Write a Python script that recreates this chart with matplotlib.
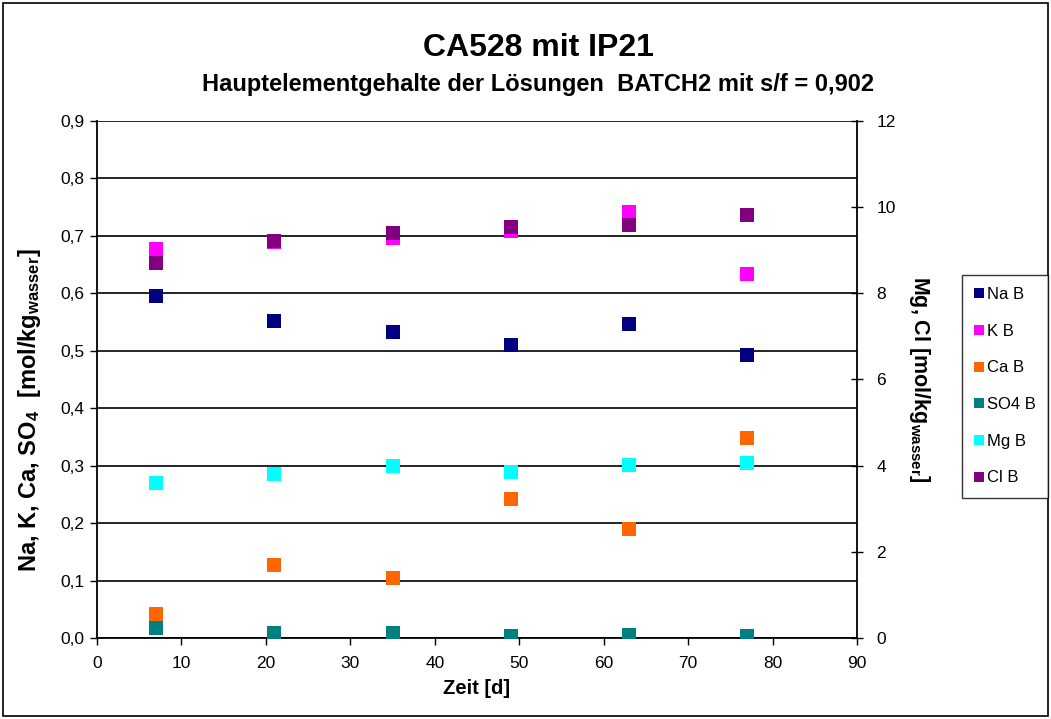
import matplotlib
matplotlib.use("Agg")
import matplotlib.pyplot as plt
from matplotlib.patches import Rectangle
from matplotlib.ticker import FuncFormatter, MultipleLocator

plt.rcParams['font.family'] = ['Liberation Sans', 'DejaVu Sans']
plt.rcParams['mathtext.fontset'] = 'custom'
plt.rcParams['mathtext.rm'] = 'Liberation Sans'
plt.rcParams['mathtext.bf'] = 'Liberation Sans:bold'
plt.rcParams['mathtext.it'] = 'Liberation Sans:italic'

# Sampling times [d]
zeit = [7, 21, 35, 49, 63, 77]

# Left axis series [mol/kg water]
na_b = [0.596, 0.552, 0.533, 0.510, 0.547, 0.492]
k_b = [0.677, 0.689, 0.696, 0.708, 0.742, 0.633]
ca_b = [0.042, 0.127, 0.104, 0.242, 0.190, 0.349]
so4_b = [0.018, 0.008, 0.008, 0.003, 0.005, 0.003]

# Right axis series [mol/kg water]
mg_b = [3.60, 3.81, 3.99, 3.85, 4.02, 4.06]
cl_b = [8.71, 9.22, 9.40, 9.55, 9.59, 9.82]

fig = plt.figure(figsize=(10.51, 7.19), dpi=100)
ax = fig.add_axes([0.0923, 0.1127, 0.7231, 0.7190])
ax2 = ax.twinx()

ms = 9.5
h_na, = ax.plot(zeit, na_b, 's', color='#000080', ms=ms, mew=0, label='Na B', zorder=3)
h_k, = ax.plot(zeit, k_b, 's', color='#FF00FF', ms=ms, mew=0, label='K B', zorder=3)
h_ca, = ax.plot(zeit, ca_b, 's', color='#FF6600', ms=ms, mew=0, label='Ca B', zorder=3)
h_so4, = ax.plot(zeit, so4_b, 's', color='#008080', ms=ms, mew=0, label='SO4 B', zorder=3)
h_mg, = ax2.plot(zeit, mg_b, 's', color='#00FFFF', ms=ms, mew=0, label='Mg B', zorder=3)
h_cl, = ax2.plot(zeit, cl_b, 's', color='#800080', ms=ms, mew=0, label='Cl B', zorder=3)

ax.set_xlim(0, 90)
ax.set_ylim(0, 0.9)
ax2.set_ylim(0, 12)
ax.xaxis.set_major_locator(MultipleLocator(10))
ax.yaxis.set_major_locator(MultipleLocator(0.1))
ax2.yaxis.set_major_locator(MultipleLocator(2))
ax.yaxis.set_major_formatter(FuncFormatter(lambda v, p: f"{v:.1f}".replace('.', ',')))

ax.grid(axis='y', color='black', lw=1.2)
ax.set_axisbelow(True)
ax.spines['top'].set_visible(False)
ax2.spines['top'].set_visible(False)
ax2.spines['left'].set_visible(False)
ax2.spines['bottom'].set_visible(False)
ax.spines['right'].set_visible(False)
ax.spines['left'].set_linewidth(1.3)
ax.spines['bottom'].set_linewidth(1.3)
ax2.spines['right'].set_linewidth(1.3)

ax.tick_params(axis='x', labelsize=12.5, length=5, width=1.0, direction='out', pad=8)
ax.tick_params(axis='y', labelsize=12.5, length=5, width=1.0, direction='out', pad=4)
ax2.tick_params(axis='y', labelsize=12.5, length=8, width=1.0, direction='inout', pad=10)

ax.set_xlabel('Zeit [d]', fontsize=14.5, fontweight='bold', labelpad=6)
ax.set_ylabel(r'Na, K, Ca, SO$_\mathbf{4}$  [mol/kg$_\mathbf{wasser}$]',
              fontsize=17, fontweight='bold', labelpad=7)
ax.yaxis.set_label_coords(-0.071, 0.44)
ax2.set_ylabel(r'Mg, Cl [mol/kg$_\mathbf{wasser}$]', fontsize=15.5, fontweight='bold',
               rotation=-90, labelpad=26)

fig.text(0.512, 0.933, 'CA528 mit IP21', ha='center', va='center',
         fontsize=23, fontweight='bold')
fig.text(0.512, 0.883, 'Hauptelementgehalte der Lösungen  BATCH2 mit s/f = 0,902',
         ha='center', va='center', fontsize=17, fontweight='bold')

leg = fig.legend(handles=[h_na, h_k, h_ca, h_so4, h_mg, h_cl],
                 loc='upper left', bbox_to_anchor=(0.915, 0.618),
                 fontsize=12, frameon=True, fancybox=False, handlelength=0.6,
                 handletextpad=0.15, labelspacing=1.3, borderpad=0.75,
                 markerscale=0.8, borderaxespad=0)
leg.get_frame().set_edgecolor('black')
leg.get_frame().set_linewidth(1.0)

fig.add_artist(Rectangle((0.003, 0.004), 0.994, 0.992, transform=fig.transFigure,
                         fill=False, edgecolor='black', lw=1.2))

fig.savefig('out.png', dpi=100)
